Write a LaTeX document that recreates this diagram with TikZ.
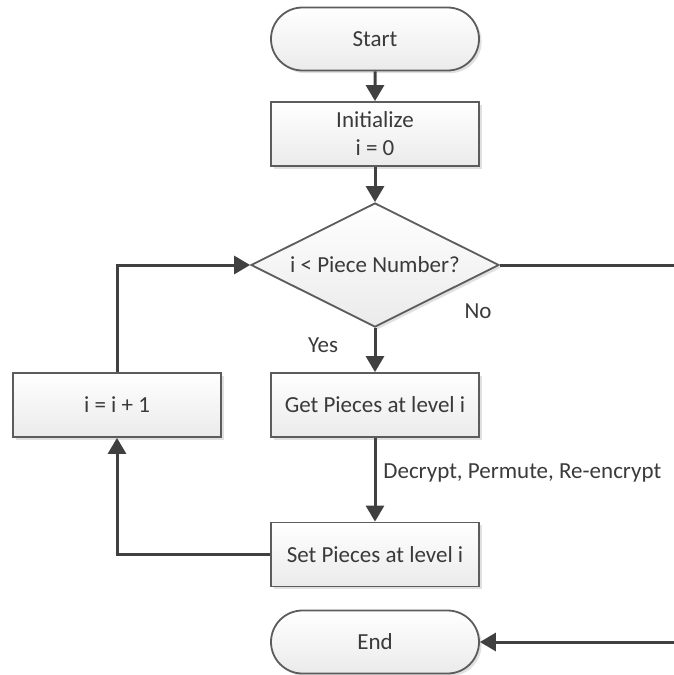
\documentclass[tikz,border=0pt]{standalone}
\usepackage{fontspec}
\setmainfont{Carlito}
\usetikzlibrary{shapes.geometric,shapes.misc,arrows.meta,shadows}
\definecolor{linec}{HTML}{404040}
\definecolor{borderc}{HTML}{5C5C5C}
\definecolor{textc}{HTML}{3A3A3A}
\begin{document}
\begin{tikzpicture}[x=0.5pt,y=-0.5pt,
  every node/.style={font=\fontsize{11.5}{14}\selectfont, text=textc},
  shadowed/.style={drop shadow={shadow xshift=1.3pt, shadow yshift=-1.3pt, fill=black, opacity=0.12}},
  stepbox/.style={rectangle, draw=borderc, line width=0.9pt, top color=white, bottom color=black!8,
    minimum width=104pt, minimum height=32pt, inner sep=0pt, align=center, shadowed},
  termbox/.style={rounded rectangle, draw=borderc, line width=0.9pt, top color=white, bottom color=black!8,
    minimum width=104pt, minimum height=31.5pt, inner sep=0pt, shadowed},
  decbox/.style={diamond, aspect=2, draw=borderc, line width=0.9pt, top color=white, bottom color=black!8,
    minimum width=124pt, minimum height=62pt, inner sep=0pt, shadowed},
  conn/.style={draw=linec, line width=1.5pt, -{Triangle[length=8pt,width=9pt]}},
  plainline/.style={draw=linec, line width=1.5pt}
]
\useasboundingbox (0,0) rectangle (674,675);

\node[termbox] (start) at (375,39) {Start};
\node[stepbox] (init) at (375,134) {Initialize\\i = 0};
\node[decbox] (dec) at (375,265) {i < Piece Number?};
\node[stepbox] (get) at (375,405) {Get Pieces at level i};
\node[stepbox] (set) at (375,554.5) {Set Pieces at level i};
\node[termbox] (end) at (375,642) {End};
\node[stepbox] (inc) at (117,405) {i = i + 1};

\node (yes) at (323,345) {Yes};
\node (no) at (478,311) {No};
\node[anchor=west, inner sep=0pt] (lbl) at (383,473) {Decrypt, Permute, Re-encrypt};

\coordinate (r1) at (674,265);
\coordinate (r2) at (674,642);

\draw[conn] (start) -- (init);
\draw[conn] (init) -- (dec);
\draw[conn] (dec.south) -- (get.north);
\draw[conn] (get) -- (set);
\draw[conn] (set.west) -| (inc.south);
\draw[conn] (inc.north) |- (dec.west);
\draw[plainline] (dec.east) -- (r1);
\draw[conn] (r2) -- (end.east);
\end{tikzpicture}
\end{document}
